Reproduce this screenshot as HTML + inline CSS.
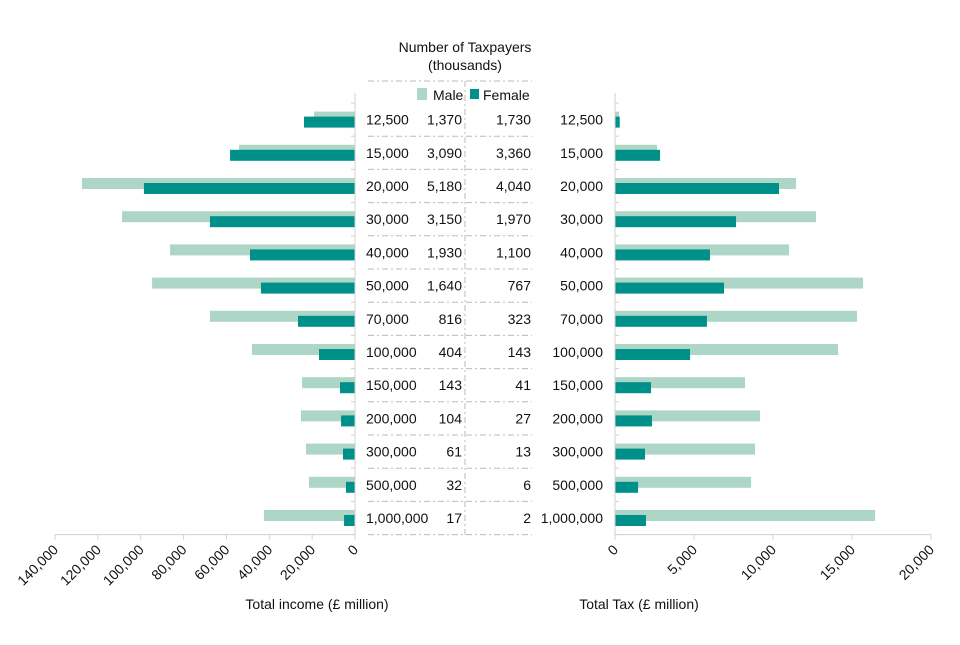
<!DOCTYPE html>
<html><head><meta charset="utf-8"><style>
body{margin:0;background:#fff}
svg text{font-family:"Liberation Sans",sans-serif;font-size:14px;fill:#111}
</style></head><body>
<svg id="chart" width="960" height="640" xmlns="http://www.w3.org/2000/svg"></svg>
<script>
const bands=["12,500","15,000","20,000","30,000","40,000","50,000","70,000","100,000","150,000","200,000","300,000","500,000","1,000,000"];
const maleCount=["1,370","3,090","5,180","3,150","1,930","1,640","816","404","143","104","61","32","17"];
const femaleCount=["1,730","3,360","4,040","1,970","1,100","767","323","143","41","27","13","6","2"];
const maleIncome=[19100,54100,127400,108700,86300,94700,67700,48100,24700,25200,22900,21500,42500];
const femaleIncome=[23800,58300,98500,67700,49000,43900,26600,16800,7000,6500,5600,4200,5100];
const maleTax=[250,2660,11460,12720,11010,15700,15320,14120,8230,9180,8860,8610,16460];
const femaleTax=[300,2850,10380,7660,6010,6900,5820,4750,2280,2340,1900,1460,1960];
const leftTicks=[0,20000,40000,60000,80000,100000,120000,140000];
const rightTicks=[0,5000,10000,15000,20000];
const LIGHT="#add6c6",DARK="#00908a";
const svg=document.getElementById('chart');const NS="http://www.w3.org/2000/svg";
function el(t,a,txt){const e=document.createElementNS(NS,t);for(const k in a)e.setAttribute(k,a[k]);if(txt!=null)e.textContent=txt;svg.appendChild(e);return e;}
const xL=v=>355-v*300/140000, xR=v=>615+v*316/20000;
const top0=103,rowH=33.2,cy=i=>top0+rowH*(i+0.5),bottom=top0+rowH*13;
let e;
e=el('text',{x:465,y:52,'text-anchor':'middle'},'Number of Taxpayers');

e=el('text',{x:465,y:70,'text-anchor':'middle'},'(thousands)');

e=el('rect',{x:417,y:88,width:10,height:12,fill:LIGHT});
e=el('text',{x:433,y:100},'Male');
e=el('rect',{x:470,y:89,width:9,height:10,fill:DARK});
e=el('text',{x:483,y:100},'Female');
for(let i=0;i<=13;i++){const y=(i==0)?81:top0+rowH*i;
 e=el('line',{x1:368,x2:532,y1:y,y2:y,stroke:'#bbb','stroke-dasharray':'6,3,2,3'});
 }
e=el('line',{x1:465,x2:465,y1:81,y2:bottom,stroke:'#bbb','stroke-dasharray':'6,3,2,3'});

bands.forEach((b,i)=>{const y=cy(i);
 e=el('rect',{x:xL(maleIncome[i]),y:y-8,width:355-xL(maleIncome[i]),height:11,fill:LIGHT});
 e=el('rect',{x:xL(femaleIncome[i]),y:y-3,width:355-xL(femaleIncome[i]),height:11,fill:DARK});
 e=el('rect',{x:615,y:y-8,width:xR(maleTax[i])-615,height:11,fill:LIGHT});
 e=el('rect',{x:615,y:y-3,width:xR(femaleTax[i])-615,height:11,fill:DARK});
 e=el('text',{x:366,y:y+5},b);
 e=el('text',{x:462,y:y+5,'text-anchor':'end'},maleCount[i]);
 e=el('text',{x:531,y:y+5,'text-anchor':'end'},femaleCount[i]);
 e=el('text',{x:603,y:y+5,'text-anchor':'end'},b);
});
e=el('line',{x1:355,x2:355,y1:top0-10,y2:bottom,stroke:'#d0d0d0'});
e=el('line',{x1:615,x2:615,y1:top0-10,y2:bottom,stroke:'#d0d0d0'});
e=el('line',{x1:xL(140000),x2:355,y1:bottom,y2:bottom,stroke:'#d0d0d0'});
e=el('line',{x1:615,x2:xR(20000),y1:bottom,y2:bottom,stroke:'#d0d0d0'});
for(let i=0;i<=13;i++){
 e=el('line',{x1:351,x2:355,y1:top0+rowH*i,y2:top0+rowH*i,stroke:'#d0d0d0'});
 e=el('line',{x1:615,x2:619,y1:top0+rowH*i,y2:top0+rowH*i,stroke:'#d0d0d0'});}
const fmt=v=>v.toLocaleString('en-GB');
leftTicks.forEach(v=>{const x=xL(v);
 e=el('line',{x1:x,x2:x,y1:bottom,y2:bottom+5,stroke:'#d0d0d0'});
 e=el('text',{x:x+4,y:bottom+16,'text-anchor':'end',transform:`rotate(-45 ${x+4} ${bottom+16})`},fmt(v));});
rightTicks.forEach(v=>{const x=xR(v);
 e=el('line',{x1:x,x2:x,y1:bottom,y2:bottom+5,stroke:'#d0d0d0'});
 e=el('text',{x:x+4,y:bottom+16,'text-anchor':'end',transform:`rotate(-45 ${x+4} ${bottom+16})`},fmt(v));});
e=el('text',{x:317,y:609,'text-anchor':'middle'},'Total income (£ million)');
e=el('text',{x:639,y:609,'text-anchor':'middle'},'Total Tax (£ million)');
</script>
</body></html>
